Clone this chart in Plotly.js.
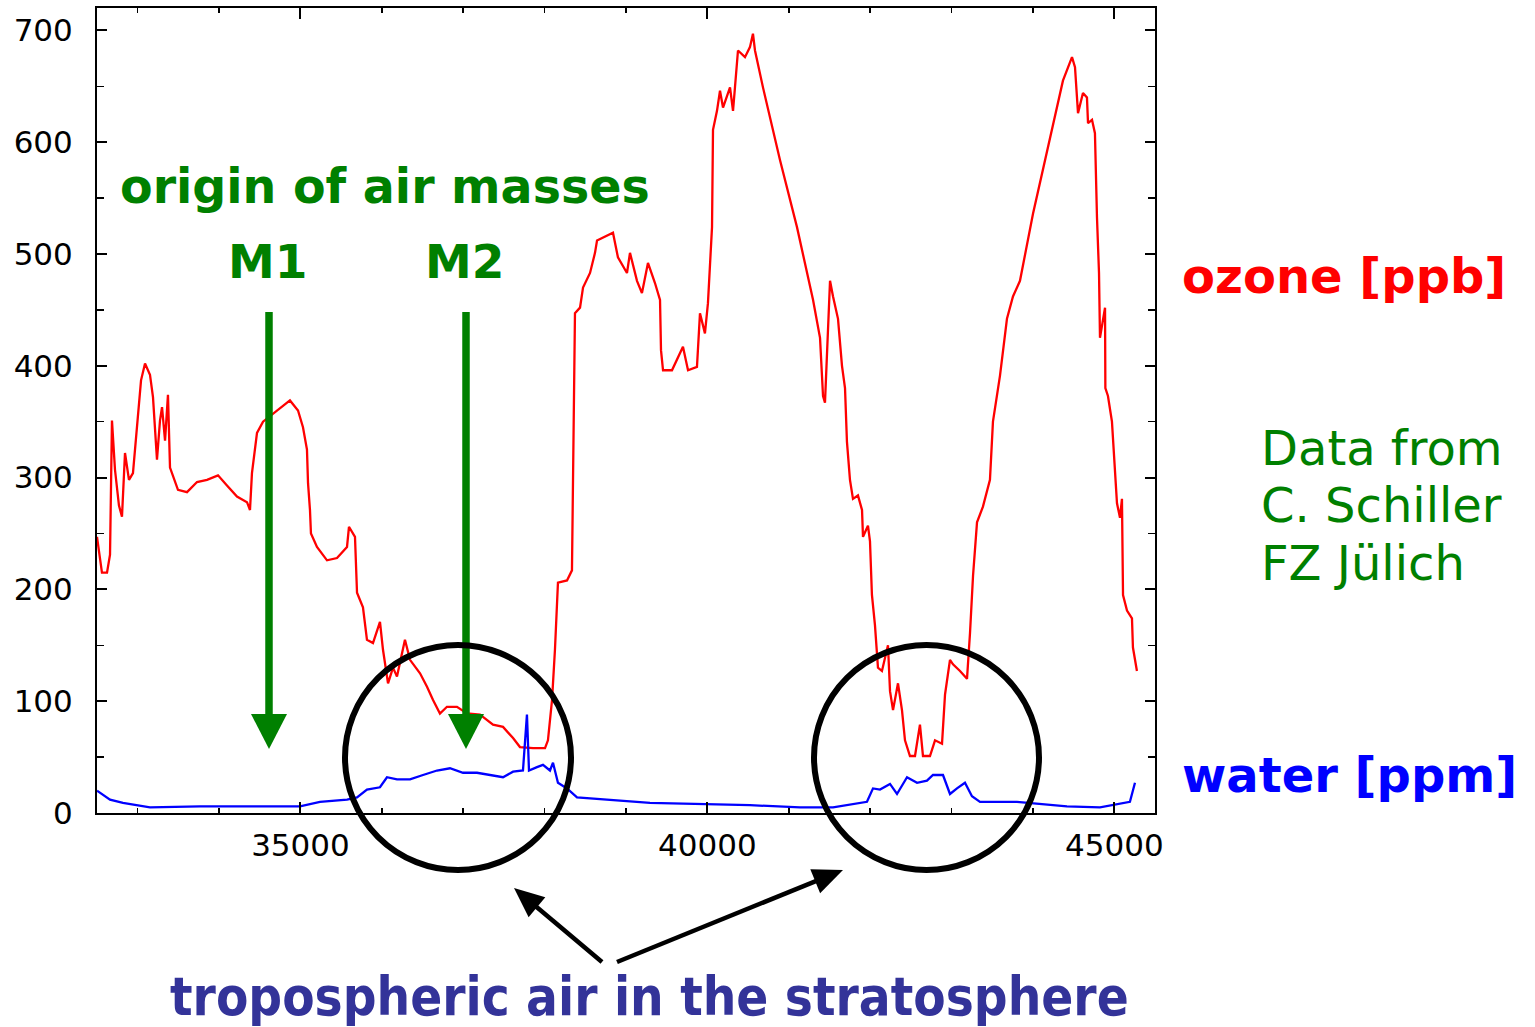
<!DOCTYPE html>
<html>
<head>
<meta charset="utf-8">
<script src="https://cdn.plot.ly/plotly-3.0.1.min.js"></script>
<style>html,body{margin:0;padding:0;background:#fff;}#chart{width:1535px;height:1027px;}</style>
</head>
<body>
<div id="chart"></div>
<script>
// ---- data ----
const ozoneX = [32500,32537,32561,32623,32660,32684,32721,32770,32807,32844,
32893,32942,32991,33041,33090,33151,33188,33237,33274,33299,
33336,33372,33397,33446,33495,33606,33729,33852,33987,34097,
34220,34343,34380,34404,34466,34540,34712,34871,34970,35031,
35080,35093,35117,35129,35203,35326,35449,35572,35596,35670,
35695,35768,35817,35891,35977,36014,36076,36137,36186,36284,
36346,36469,36555,36629,36714,36800,36923,37046,37206,37366,
37489,37612,37697,37857,38005,38041,38091,38127,38164,38275,
38336,38349,38355,38373,38435,38472,38558,38619,38644,38840,
38901,39012,39049,39135,39196,39270,39356,39418,39430,39455,
39565,39700,39762,39872,39909,39970,40007,40057,40069,40118,
40155,40192,40278,40315,40339,40376,40462,40523,40560,40585,
40683,40892,41101,41298,41384,41421,41445,41470,41507,41544,
41605,41654,41691,41715,41752,41789,41850,41900,41912,41973,
41998,42022,42059,42096,42145,42219,42244,42281,42342,42391,
42428,42489,42551,42612,42649,42735,42797,42883,42920,42981,
43018,43104,43190,43227,43264,43313,43386,43472,43509,43595,
43681,43755,43841,44001,44210,44369,44480,44517,44554,44615,
44664,44677,44726,44762,44787,44812,44824,44886,44890,44922,
44971,45008,45033,45070,45094,45107,45156,45217,45229,45278];
const ozonePpb = [247,226,215,215,231,351,307,275,265,322,
298,304,345,387,402,392,372,316,351,363,
333,374,309,299,289,287,296,298,302,293,
283,278,271,304,340,350,360,369,360,345,
325,295,271,250,238,226,228,238,256,247,
197,184,155,152,171,146,116,130,122,155,
137,125,113,101,89,95,95,89,88,79,
77,67,59,58,58,65,101,146,206,208,
217,295,375,447,452,470,483,501,512,519,
497,483,501,476,465,492,474,459,414,396,
396,417,396,399,447,429,456,524,611,628,
646,631,649,628,649,682,676,685,697,682,
649,584,524,459,425,373,367,417,476,462,
442,400,380,332,298,281,284,271,247,257,
243,195,168,130,127,150,109,92,116,92,
65,51,51,79,51,51,65,62,106,137,
133,127,120,161,212,260,274,298,350,391,
442,462,476,536,602,655,676,667,626,644,
640,617,620,608,533,483,425,452,380,373,
350,308,277,264,281,195,181,174,148,127];

const waterX = [32500,32660,32819,33151,33766,34380,34994,35240,35572,35695,
35817,35977,36063,36186,36346,36506,36678,36837,36997,37169,
37329,37489,37612,37734,37783,37808,37906,37980,38066,38103,
38164,38275,38398,38558,39295,40523,41138,41544,41961,42035,
42121,42244,42330,42453,42576,42698,42772,42895,42981,43067,
43165,43251,43350,43804,44418,44824,45070,45192,45254];
const waterPpm = [20,12,9,5,6,6,6,10,12,14,
21,23,32,30,30,34,38,40,36,36,
34,32,37,38,88,38,41,43,38,45,
27,22,14,13,9,7,5,5,10,22,
21,26,17,32,27,29,34,34,17,22,
27,15,10,10,6,5,8,10,27];

const xTickVals = [35000, 40000, 45000];
const xTickText = ["35000", "40000", "45000"];
const yTickVals = [0, 100, 200, 300, 400, 500, 600, 700];
const yTickText = ["0", "100", "200", "300", "400", "500", "600", "700"];

const seriesNames = ["ozone [ppb]", "water [ppm]"];
const noteLines = ["Data from", "C. Schiller", "FZ Jülich"];
const heading = "origin of air masses";
const markers = ["M1", "M2"];
const bottomNote = "tropospheric air in the stratosphere";

// ---- layout geometry (pixels) ----
const W = 1535, H = 1027;
const L = 97, R = 1155, T = 8, B = 813;
const px = x => (x - L) / (R - L);
const py = y => (B - y) / (B - T);

const GREEN = "#008000";
const shapes = [];
const annotations = [];

// green vertical arrows
function greenArrow(xc) {
  shapes.push({type: "line", xref: "paper", yref: "paper",
    x0: px(xc), x1: px(xc), y0: py(312), y1: py(716),
    line: {color: GREEN, width: 7.5}});
  shapes.push({type: "path", xref: "paper", yref: "paper",
    path: `M ${px(xc - 18)} ${py(714)} L ${px(xc + 18)} ${py(714)} L ${px(xc)} ${py(749)} Z`,
    fillcolor: GREEN, line: {color: GREEN, width: 0}});
}
greenArrow(269);
greenArrow(466);

// circles
[[345, 571], [814, 1039]].forEach(([a, b]) => {
  shapes.push({type: "circle", xref: "paper", yref: "paper",
    x0: px(a), x1: px(b), y0: py(870), y1: py(645),
    line: {color: "#000", width: 6}, fillcolor: "rgba(0,0,0,0)"});
});

// black arrows
function blackArrow(tx, ty, hx, hy) {
  const dx = tx - hx, dy = ty - hy, len = Math.hypot(dx, dy);
  const ux = dx / len, uy = dy / len, nx = -uy, ny = ux;
  const HL = 30, HW = 26;
  const bx = hx + ux * HL, by = hy + uy * HL;
  shapes.push({type: "line", xref: "paper", yref: "paper",
    x0: px(tx), y0: py(ty), x1: px(bx - ux * 2), y1: py(by - uy * 2),
    line: {color: "#000", width: 4.5}});
  shapes.push({type: "path", xref: "paper", yref: "paper",
    path: `M ${px(hx)} ${py(hy)} L ${px(bx + nx * HW / 2)} ${py(by + ny * HW / 2)} L ${px(bx - nx * HW / 2)} ${py(by - ny * HW / 2)} Z`,
    fillcolor: "#000", line: {color: "#000", width: 0}});
}
blackArrow(602, 962, 514, 888);
blackArrow(617, 962, 843, 870);

// texts
const BOLD = "DejaVu Sans, Verdana, sans-serif";
function txt(text, x, y, size, color, family, weight, xanchor) {
  annotations.push({text: text, xref: "paper", yref: "paper",
    x: px(x), y: py(y), xanchor: xanchor || "left", yanchor: "middle",
    showarrow: false, font: {size: size, color: color, family: family, weight: weight}});
}
txt(heading, 118, 186, 47.5, GREEN, BOLD, 700);
txt(markers[0], 267, 261, 47, GREEN, BOLD, 700, "center");
txt(markers[1], 464, 261, 47, GREEN, BOLD, 700, "center");
txt(seriesNames[0], 1180, 276, 48, "#ff0000", BOLD, 700);
txt(seriesNames[1], 1180, 775, 48, "#0000ff", BOLD, 700);
txt(noteLines[0], 1259, 448, 48, GREEN, "DejaVu Sans, sans-serif", 400);
txt(noteLines[1], 1259, 505, 48, GREEN, "DejaVu Sans, sans-serif", 400);
txt(noteLines[2], 1259, 563, 48, GREEN, "DejaVu Sans, sans-serif", 400);
txt(bottomNote, 649, 996, 52.5, "#333399", "DejaVu Sans Condensed, Liberation Sans Narrow, DejaVu Sans, sans-serif", 700, "center");

const data = [
  {x: ozoneX, y: ozonePpb, name: seriesNames[0], type: "scatter", mode: "lines",
   line: {color: "#ff0000", width: 2.3}, hoverinfo: "skip"},
  {x: waterX, y: waterPpm, name: seriesNames[1], type: "scatter", mode: "lines",
   line: {color: "#0000ff", width: 2.3}, hoverinfo: "skip"}
];

const tickFont = {family: "DejaVu Sans, sans-serif", size: 31, color: "#000"};
const layout = {
  width: W, height: H,
  margin: {l: L, r: W - R, t: T, b: H - B, pad: 0},
  paper_bgcolor: "#fff", plot_bgcolor: "#fff",
  showlegend: false,
  xaxis: {range: [32500, 45500], tickmode: "array", tickvals: xTickVals, ticktext: xTickText,
    ticks: "inside", ticklen: 11, tickwidth: 2, tickcolor: "#000",
    minor: {tickmode: "linear", tick0: 32000, dtick: 1000, ticks: "inside", ticklen: 5, tickwidth: 1.5, tickcolor: "#000"},
    showline: true, linecolor: "#000", linewidth: 2, mirror: "ticks",
    showgrid: false, zeroline: false, tickfont: tickFont, ticklabelstandoff: 4, automargin: false},
  yaxis: {range: [0, 720], tickmode: "array", tickvals: yTickVals, ticktext: yTickText,
    ticks: "inside", ticklen: 10, tickwidth: 2, tickcolor: "#000",
    minor: {tickmode: "linear", tick0: 0, dtick: 50, ticks: "inside", ticklen: 7, tickwidth: 1.5, tickcolor: "#000"},
    showline: true, linecolor: "#000", linewidth: 2, mirror: "ticks",
    showgrid: false, zeroline: false, tickfont: tickFont, ticklabelstandoff: 16, automargin: false},
  shapes: shapes,
  annotations: annotations
};

Plotly.newPlot("chart", data, layout, {displayModeBar: false, staticPlot: true});
</script>
</body>
</html>
